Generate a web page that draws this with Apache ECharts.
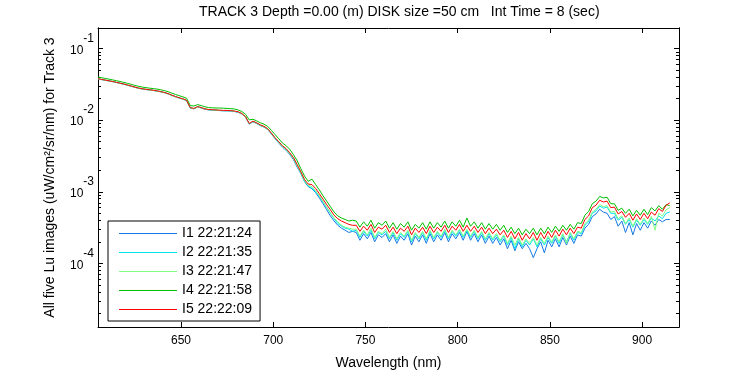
<!DOCTYPE html>
<html>
<head>
<meta charset="utf-8">
<script src="https://cdn.jsdelivr.net/npm/echarts@6/dist/echarts.min.js"></script>
<style>
html, body { margin: 0; padding: 0; background: #fff; }
#chart { width: 750px; height: 375px; }
</style>
</head>
<body>
<div id="chart"></div>
<script>
// wavelength grid (nm)
const wavelength = [
    605, 607, 609, 611, 613, 615, 617, 619, 621, 623,
    625, 627, 629, 631, 633, 635, 637, 639, 641, 643,
    645, 647, 649, 651, 653, 655, 657, 659, 661, 663,
    665, 667, 669, 671, 673, 675, 677, 679, 681, 683,
    685, 687, 689, 691, 693, 695, 697, 699, 701, 703,
    705, 707, 709, 711, 713, 715, 717, 719, 721, 723,
    725, 727, 729, 731, 733, 735, 737, 739, 741, 743,
    745, 747, 749, 751, 753, 755, 757, 759, 761, 763,
    765, 767, 769, 771, 773, 775, 777, 779, 781, 783,
    785, 787, 789, 791, 793, 795, 797, 799, 801, 803,
    805, 807, 809, 811, 813, 815, 817, 819, 821, 823,
    825, 827, 829, 831, 833, 835, 837, 839, 841, 843,
    845, 847, 849, 851, 853, 855, 857, 859, 861, 863,
    865, 867, 869, 871, 873, 875, 877, 879, 881, 883,
    885, 887, 889, 891, 893, 895, 897, 899, 901, 903,
    905, 907, 909, 911, 913, 915
];

// I1 22:21:24
const lu1 = [
    0.0378, 0.0369, 0.0361, 0.0353, 0.0345, 0.0336, 0.0327, 0.0318, 0.0308, 0.0298,
    0.0288, 0.0279, 0.0273, 0.0268, 0.0264, 0.0260, 0.0255, 0.0249, 0.0242, 0.0233,
    0.0222, 0.0212, 0.0204, 0.0197, 0.0188, 0.0148, 0.0144, 0.0153, 0.0148, 0.0142,
    0.0139, 0.0138, 0.0137, 0.0136, 0.0135, 0.0135, 0.0134, 0.0132, 0.0129, 0.0122,
    0.0110, 0.0088, 0.0095, 0.0090, 0.0084, 0.0080, 0.0074, 0.0064, 0.0055, 0.0048,
    0.0042, 0.0038, 0.0033, 0.0028, 0.0022, 0.0018, 0.00138, 0.00118, 0.00110, 0.00097,
    0.00082, 0.00068, 0.00056, 0.00046, 0.00039, 0.00034, 0.00031, 0.00029, 0.00027, 0.00028,
    0.00027, 0.00021, 0.00026, 0.00022, 0.00027, 0.00020, 0.00025, 0.00023, 0.00026, 0.00020,
    0.00025, 0.00019, 0.00024, 0.00021, 0.00026, 0.00018, 0.00024, 0.00020, 0.00025, 0.00019,
    0.00026, 0.00020, 0.00025, 0.00021, 0.00027, 0.00020, 0.00026, 0.00022, 0.00027, 0.00021,
    0.00028, 0.00021, 0.00026, 0.00020, 0.00025, 0.00019, 0.00024, 0.00019, 0.00023, 0.00018,
    0.00022, 0.00016, 0.00021, 0.00015, 0.00020, 0.00016, 0.00019, 0.00016, 0.00012, 0.00016,
    0.00020, 0.00014, 0.00021, 0.00017, 0.00022, 0.00017, 0.00023, 0.00018, 0.00024, 0.00019,
    0.00025, 0.00024, 0.00031, 0.00035, 0.00045, 0.00049, 0.00057, 0.00052, 0.00050, 0.00041,
    0.00045, 0.00033, 0.00039, 0.00027, 0.00037, 0.00025, 0.00036, 0.00029, 0.00037, 0.00031,
    0.00039, 0.00034, 0.00041, 0.00038, 0.00041, 0.00041
];

// I2 22:21:35
const lu2 = [
    0.0379, 0.0370, 0.0362, 0.0354, 0.0346, 0.0337, 0.0328, 0.0319, 0.0309, 0.0299,
    0.0289, 0.0280, 0.0274, 0.0269, 0.0265, 0.0261, 0.0256, 0.0250, 0.0243, 0.0234,
    0.0223, 0.0213, 0.0205, 0.0198, 0.0189, 0.0149, 0.0145, 0.0154, 0.0149, 0.0143,
    0.0140, 0.0139, 0.0138, 0.0137, 0.0136, 0.0136, 0.0135, 0.0133, 0.0130, 0.0123,
    0.0111, 0.0089, 0.0096, 0.0091, 0.0085, 0.0081, 0.0075, 0.0065, 0.0056, 0.0049,
    0.0043, 0.0039, 0.0034, 0.0029, 0.0023, 0.0018, 0.00140, 0.00120, 0.00112, 0.00100,
    0.00086, 0.00072, 0.00060, 0.00050, 0.00042, 0.00036, 0.00033, 0.00031, 0.00030, 0.00028,
    0.00029, 0.00023, 0.00028, 0.00024, 0.00029, 0.00022, 0.00027, 0.00025, 0.00028, 0.00022,
    0.00027, 0.00021, 0.00026, 0.00023, 0.00028, 0.00020, 0.00026, 0.00022, 0.00027, 0.00021,
    0.00028, 0.00022, 0.00027, 0.00023, 0.00029, 0.00022, 0.00028, 0.00024, 0.00029, 0.00023,
    0.00029, 0.00023, 0.00028, 0.00022, 0.00027, 0.00021, 0.00026, 0.00021, 0.00025, 0.00020,
    0.00024, 0.00018, 0.00023, 0.00016, 0.00022, 0.00017, 0.00021, 0.00018, 0.00022, 0.00017,
    0.00022, 0.00018, 0.00023, 0.00019, 0.00024, 0.00019, 0.00025, 0.00020, 0.00026, 0.00021,
    0.00027, 0.00026, 0.00034, 0.00038, 0.00050, 0.00054, 0.00063, 0.00059, 0.00061, 0.00050,
    0.00050, 0.00040, 0.00044, 0.00035, 0.00041, 0.00032, 0.00040, 0.00034, 0.00041, 0.00035,
    0.00043, 0.00039, 0.00046, 0.00042, 0.00050, 0.00052
];

// I3 22:21:47
const lu3 = [
    0.0378, 0.0369, 0.0361, 0.0353, 0.0345, 0.0336, 0.0327, 0.0318, 0.0308, 0.0298,
    0.0288, 0.0279, 0.0273, 0.0268, 0.0264, 0.0260, 0.0255, 0.0249, 0.0242, 0.0233,
    0.0222, 0.0212, 0.0204, 0.0197, 0.0188, 0.0149, 0.0145, 0.0153, 0.0149, 0.0143,
    0.0140, 0.0139, 0.0138, 0.0137, 0.0136, 0.0136, 0.0135, 0.0133, 0.0130, 0.0123,
    0.0111, 0.0089, 0.0096, 0.0091, 0.0085, 0.0081, 0.0075, 0.0065, 0.0056, 0.0049,
    0.0043, 0.0039, 0.0034, 0.0029, 0.0023, 0.00185, 0.00143, 0.00123, 0.00118, 0.00104,
    0.00088, 0.00073, 0.00061, 0.00051, 0.00043, 0.00038, 0.00034, 0.00032, 0.00031, 0.00030,
    0.00030, 0.00024, 0.00029, 0.00025, 0.00031, 0.00023, 0.00028, 0.00026, 0.00030, 0.00023,
    0.00028, 0.00022, 0.00027, 0.00024, 0.00029, 0.00021, 0.00027, 0.00023, 0.00028, 0.00022,
    0.00029, 0.00023, 0.00028, 0.00024, 0.00030, 0.00023, 0.00029, 0.00025, 0.00030, 0.00024,
    0.00030, 0.00024, 0.00029, 0.00023, 0.00028, 0.00022, 0.00027, 0.00022, 0.00026, 0.00021,
    0.00025, 0.00019, 0.00024, 0.00018, 0.00023, 0.00018, 0.00022, 0.00019, 0.00023, 0.00018,
    0.00023, 0.00019, 0.00024, 0.00020, 0.00025, 0.00020, 0.00026, 0.00019, 0.00027, 0.00022,
    0.00028, 0.00027, 0.00036, 0.00040, 0.00052, 0.00057, 0.00066, 0.00062, 0.00064, 0.00052,
    0.00053, 0.00042, 0.00046, 0.00036, 0.00043, 0.00033, 0.00042, 0.00035, 0.00043, 0.00036,
    0.00045, 0.00029, 0.00050, 0.00046, 0.00056, 0.00060
];

// I4 22:21:58
const lu4 = [
    0.0400, 0.0392, 0.0383, 0.0374, 0.0365, 0.0356, 0.0347, 0.0337, 0.0327, 0.0317,
    0.0306, 0.0297, 0.0290, 0.0285, 0.0280, 0.0276, 0.0272, 0.0266, 0.0259, 0.0250,
    0.0239, 0.0229, 0.0220, 0.0212, 0.0203, 0.0160, 0.0158, 0.0165, 0.0160, 0.0154,
    0.0150, 0.0149, 0.0148, 0.0148, 0.0147, 0.0146, 0.0145, 0.0143, 0.0139, 0.0132,
    0.0121, 0.0101, 0.0103, 0.0098, 0.0092, 0.0088, 0.0082, 0.0072, 0.0063, 0.0055,
    0.0048, 0.0044, 0.0039, 0.0033, 0.0027, 0.0021, 0.00165, 0.00140, 0.00150, 0.00126,
    0.00106, 0.00088, 0.00074, 0.00062, 0.00052, 0.00046, 0.00043, 0.00041, 0.00039, 0.00040,
    0.00039, 0.00032, 0.00038, 0.00033, 0.00040, 0.00031, 0.00037, 0.00034, 0.00039, 0.00031,
    0.00037, 0.00030, 0.00036, 0.00032, 0.00038, 0.00029, 0.00035, 0.00031, 0.00037, 0.00030,
    0.00038, 0.00031, 0.00037, 0.00032, 0.00039, 0.00031, 0.00038, 0.00033, 0.00040, 0.00032,
    0.00043, 0.00033, 0.00038, 0.00031, 0.00037, 0.00030, 0.00036, 0.00030, 0.00035, 0.00029,
    0.00034, 0.00027, 0.00032, 0.00026, 0.00031, 0.00025, 0.00030, 0.00026, 0.00031, 0.00025,
    0.00031, 0.00026, 0.00032, 0.00027, 0.00033, 0.00028, 0.00034, 0.00029, 0.00035, 0.00030,
    0.00037, 0.00036, 0.00047, 0.00053, 0.00068, 0.00074, 0.00086, 0.00082, 0.00084, 0.00068,
    0.00068, 0.00055, 0.00059, 0.00050, 0.00057, 0.00046, 0.00055, 0.00047, 0.00057, 0.00048,
    0.00060, 0.00054, 0.00064, 0.00057, 0.00066, 0.00064
];

// I5 22:22:09
const lu5 = [
    0.0380, 0.0371, 0.0363, 0.0355, 0.0347, 0.0338, 0.0329, 0.0320, 0.0310, 0.0300,
    0.0290, 0.0281, 0.0275, 0.0270, 0.0266, 0.0262, 0.0257, 0.0251, 0.0244, 0.0235,
    0.0224, 0.0214, 0.0206, 0.0199, 0.0190, 0.0150, 0.0146, 0.0155, 0.0150, 0.0144,
    0.0141, 0.0140, 0.0139, 0.0138, 0.0137, 0.0137, 0.0136, 0.0134, 0.0131, 0.0124,
    0.0112, 0.0090, 0.0097, 0.0092, 0.0086, 0.0082, 0.0076, 0.0066, 0.0057, 0.0050,
    0.0044, 0.0040, 0.0035, 0.0030, 0.0024, 0.0019, 0.00148, 0.00128, 0.00126, 0.00111,
    0.00094, 0.00079, 0.00066, 0.00056, 0.00047, 0.00042, 0.00039, 0.00037, 0.00035, 0.00034,
    0.00034, 0.00028, 0.00033, 0.00029, 0.00035, 0.00027, 0.00032, 0.00030, 0.00034, 0.00027,
    0.00032, 0.00026, 0.00031, 0.00028, 0.00033, 0.00025, 0.00031, 0.00027, 0.00032, 0.00026,
    0.00033, 0.00027, 0.00032, 0.00028, 0.00034, 0.00027, 0.00033, 0.00029, 0.00035, 0.00028,
    0.00034, 0.00028, 0.00033, 0.00027, 0.00032, 0.00026, 0.00031, 0.00026, 0.00030, 0.00025,
    0.00029, 0.00023, 0.00028, 0.00022, 0.00027, 0.00021, 0.00026, 0.00022, 0.00027, 0.00021,
    0.00027, 0.00022, 0.00028, 0.00023, 0.00029, 0.00024, 0.00030, 0.00025, 0.00031, 0.00026,
    0.00032, 0.00031, 0.00041, 0.00046, 0.00060, 0.00065, 0.00076, 0.00072, 0.00074, 0.00060,
    0.00061, 0.00049, 0.00053, 0.00044, 0.00050, 0.00040, 0.00049, 0.00041, 0.00050, 0.00042,
    0.00052, 0.00047, 0.00058, 0.00053, 0.00065, 0.00070
];

const seriesNames = ['I1 22:21:24', 'I2 22:21:35', 'I3 22:21:47', 'I4 22:21:58', 'I5 22:22:09'];
const seriesColors = ['#1478e6', '#00e4f0', '#80ff80', '#00c000', '#ff0000'];
const seriesData = [lu1, lu2, lu3, lu4, lu5];

const xTicks = [650, 700, 750, 800, 850, 900];
const yMajor = [1e-4, 1e-3, 1e-2, 1e-1];
const yMinor = [
    2e-5, 3e-5, 4e-5, 5e-5, 6e-5, 7e-5, 8e-5, 9e-5,
    2e-4, 3e-4, 4e-4, 5e-4, 6e-4, 7e-4, 8e-4, 9e-4,
    2e-3, 3e-3, 4e-3, 5e-3, 6e-3, 7e-3, 8e-3, 9e-3,
    2e-2, 3e-2, 4e-2, 5e-2, 6e-2, 7e-2, 8e-2, 9e-2
];

const FONT = 'Liberation Sans';
const X_MIN = 605, X_MAX = 920;
const Y_MIN = 1.29e-5, Y_MAX = 0.194;

let chart = echarts.init(document.getElementById('chart'));

function makeY(position, ticks, len, showLabel, name) {
    return {
        type: 'log',
        logBase: 10,
        min: Y_MIN,
        max: Y_MAX,
        position: position,
        name: name || '',
        nameLocation: 'middle',
        nameGap: 41,
        nameTextStyle: { color: '#000', fontSize: 14, fontFamily: FONT },
        axisLine: { show: true, onZero: false, lineStyle: { color: '#000', width: 1 } },
        axisTick: { show: true, inside: true, length: len, customValues: ticks, lineStyle: { color: '#000' } },
        axisLabel: {
            show: showLabel,
            customValues: yMajor,
            margin: 4,
            padding: [4, 0, 0, 0],
            color: '#000',
            fontFamily: FONT,
            formatter: function (v) {
                return '{b|10}{e|' + Math.round(Math.log10(v)) + '}';
            },
            rich: {
                b: { fontSize: 12, fontFamily: FONT, color: '#000', lineHeight: 36, verticalAlign: 'middle' },
                e: { fontSize: 12, fontFamily: FONT, color: '#000', lineHeight: 12, verticalAlign: 'top' },
            },
        },
        splitLine: { show: false },
    };
}

function makeX(position, showLabel, name) {
    return {
        type: 'value',
        min: X_MIN,
        max: X_MAX,
        position: position,
        name: name || '',
        nameLocation: 'middle',
        nameGap: 29,
        nameTextStyle: { color: '#000', fontSize: 14, fontFamily: FONT },
        axisLine: { show: true, onZero: false, lineStyle: { color: '#000', width: 1 } },
        axisTick: { show: true, inside: true, length: 5, customValues: xTicks, lineStyle: { color: '#000' } },
        axisLabel: {
            show: showLabel,
            customValues: xTicks,
            margin: 8,
            color: '#000',
            fontSize: 12,
            fontFamily: FONT,
        },
        splitLine: { show: false },
    };
}

let option = {
    animation: false,
    backgroundColor: '#fff',
    title: {
        text: 'TRACK 3 Depth =0.00 (m) DISK size =50 cm   Int Time = 8 (sec)',
        left: 199,
        top: 5,
        padding: 0,
        textStyle: { color: '#000', fontSize: 14, fontWeight: 'normal', fontFamily: FONT },
    },
    grid: {
        left: 98,
        top: 28,
        right: 71,
        bottom: 44,
        containLabel: false,
    },
    legend: {
        orient: 'vertical',
        left: 108,
        top: 221,
        padding: [5.5, 8, 4.5, 11],
        icon: 'rect',
        itemWidth: 58,
        itemHeight: 1,
        itemGap: 5,
        borderColor: '#000',
        borderWidth: 1,
        backgroundColor: '#fff',
        textStyle: { color: '#000', fontSize: 14, lineHeight: 14, fontFamily: FONT },
        data: seriesNames,
    },
    xAxis: [
        makeX('bottom', true, 'Wavelength (nm)'),
        makeX('top', false),
    ],
    yAxis: [
        makeY('left', yMajor, 5, true, 'All five Lu images (uW/cm\u00b2/sr/nm) for Track 3'),
        makeY('left', yMinor, 3, false),
        makeY('right', yMajor, 5, false),
        makeY('right', yMinor, 3, false),
    ],
    series: [],
};

for (let i = 0; i < seriesNames.length; i++) {
    option.series.push({
        name: seriesNames[i],
        type: 'line',
        xAxisIndex: 0,
        yAxisIndex: 0,
        symbol: 'none',
        showSymbol: false,
        color: seriesColors[i],
        lineStyle: { color: seriesColors[i], width: 1 },
        data: wavelength.map((w, k) => [w, seriesData[i][k]]),
    });
}

chart.setOption(option);
</script>
</body>
</html>
